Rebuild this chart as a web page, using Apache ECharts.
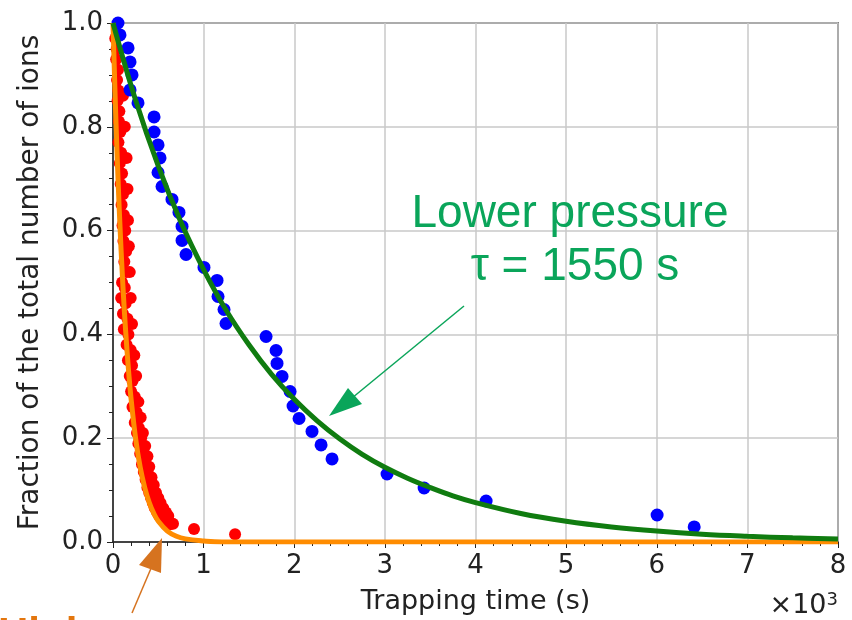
<!DOCTYPE html>
<html>
<head>
<meta charset="utf-8">
<script src="https://cdn.jsdelivr.net/npm/echarts@6/dist/echarts.min.js"></script>
<style>
html, body { margin: 0; padding: 0; background: #fff; }
#main { width: 852px; height: 620px; }
</style>
</head>
<body>
<div id="main"></div>
<script>
// lower pressure measurements (blue)
var blueTime = [55, 77, 166, 188, 210, 188, 276, 453, 453, 497, 519, 497, 541, 651, 728, 762, 762, 806,
    1004, 1148, 1159, 1225, 1247, 1689, 1799, 1810, 1865, 1954, 1987, 2053, 2196, 2296, 2417,
    3024, 3433, 4117, 6004, 6413];
var blueFrac = [1.0, 0.977, 0.952, 0.925, 0.9, 0.871, 0.846, 0.819, 0.79, 0.765, 0.74, 0.712, 0.685, 0.66, 0.635, 0.608, 0.581, 0.554,
    0.529, 0.504, 0.473, 0.448, 0.421, 0.396, 0.369, 0.344, 0.319, 0.29, 0.262, 0.238, 0.213, 0.187, 0.16,
    0.131, 0.104, 0.079, 0.052, 0.029];

// higher pressure measurements (red)
var redTime = [25, 40, 35, 55, 45, 60, 50, 70, 65, 80, 60, 90, 75, 100, 85, 110, 95, 120, 105, 135,
    115, 145, 125, 150, 100, 130, 90, 140, 110, 160, 120, 170, 150, 195, 165, 210,
    185, 215, 200, 240, 215, 260, 240, 285, 265, 310, 280, 330, 300, 350, 320, 370, 340, 390,
    360, 410, 380, 430, 400, 450, 420, 470, 440, 490, 460, 510, 485, 530, 505, 550, 525, 570,
    545, 590, 565, 610, 585, 630, 662, 894, 1347,
    110, 130, 150, 160, 165, 175, 185, 195, 210, 235, 255, 280, 305, 330, 355, 380, 400, 425, 450, 475, 500, 525, 555, 585, 610];
var redFrac = [0.97, 0.95, 0.93, 0.91, 0.89, 0.87, 0.85, 0.83, 0.81, 0.79, 0.77, 0.75, 0.73, 0.71, 0.69, 0.67, 0.65, 0.63, 0.61, 0.60,
    0.58, 0.56, 0.54, 0.52, 0.50, 0.49, 0.47, 0.46, 0.44, 0.43, 0.41, 0.40, 0.38, 0.37, 0.35, 0.34,
    0.32, 0.31, 0.29, 0.28, 0.26, 0.25, 0.23, 0.22, 0.21, 0.20, 0.19, 0.18, 0.17, 0.16, 0.15, 0.145, 0.135, 0.13,
    0.12, 0.115, 0.105, 0.10, 0.095, 0.09, 0.085, 0.08, 0.075, 0.07, 0.066, 0.062, 0.058, 0.055, 0.052, 0.05, 0.047, 0.045,
    0.043, 0.041, 0.039, 0.037, 0.036, 0.034, 0.035, 0.025, 0.015,
    0.86, 0.80, 0.74, 0.68, 0.62, 0.57, 0.52, 0.47, 0.42, 0.36, 0.32, 0.27, 0.24, 0.21, 0.185, 0.165, 0.145, 0.125, 0.11, 0.095, 0.085, 0.075, 0.065, 0.057, 0.05];

// fitted curves
var greenTime = [0, 250, 500, 750, 1000, 1250, 1500, 1750, 2000, 2250, 2500, 2750, 3000, 3250, 3500, 3750, 4000,
    4500, 5000, 5500, 6000, 6500, 7000, 7500, 8000];
var greenFrac = [1.0, 0.851, 0.724, 0.616, 0.525, 0.446, 0.380, 0.323, 0.275, 0.234, 0.199, 0.169, 0.144, 0.123, 0.105, 0.089, 0.076,
    0.055, 0.040, 0.029, 0.021, 0.015, 0.011, 0.008, 0.006];
var orangeTime = [0, 20, 40, 60, 80, 100, 125, 150, 175, 200, 250, 300, 350, 400, 450, 500, 600, 700, 800, 1000, 1200, 8000];
var orangeFrac = [1.0, 0.879, 0.773, 0.679, 0.597, 0.525, 0.446, 0.380, 0.323, 0.275, 0.199, 0.144, 0.105, 0.076, 0.055, 0.040, 0.021, 0.011, 0.006, 0.002, 0.0, 0.0];

var xTickLabels = ['0', '1', '2', '3', '4', '5', '6', '7', '8'];
var yTickLabels = ['0.0', '0.2', '0.4', '0.6', '0.8', '1.0'];

function pairs(xs, ys) {
    var out = [];
    for (var i = 0; i < xs.length; i++) out.push([xs[i], ys[i]]);
    return out;
}

var axisFont = 'DejaVu Sans';
var chart = echarts.init(document.getElementById('main'));

var option = {
    animation: false,
    backgroundColor: '#fff',
    grid: { left: 113, right: 14, top: 23, bottom: 77, show: true, borderColor: '#222', borderWidth: 1.5 },
    xAxis: {
        type: 'value', min: 0, max: 8000, interval: 1000,
        name: 'Trapping time (s)', nameLocation: 'middle', nameGap: 46,
        nameTextStyle: { fontFamily: axisFont, fontSize: 27, color: '#222' },
        axisLine: { lineStyle: { color: '#222', width: 1.5 } },
        axisTick: { length: 6, lineStyle: { color: '#222' } },
        minorTick: { show: true, splitNumber: 5, length: 4, lineStyle: { color: '#222' } },
        splitLine: { lineStyle: { color: '#c8c8c8', width: 1.5 } },
        axisLabel: { fontFamily: axisFont, fontSize: 26, color: '#222', margin: 11,
            formatter: function (v) { return xTickLabels[Math.round(v / 1000)]; } }
    },
    yAxis: {
        type: 'value', min: 0, max: 1, interval: 0.2,
        name: 'Fraction of the total number of ions', nameLocation: 'middle', nameGap: 68,
        nameTextStyle: { fontFamily: axisFont, fontSize: 28, color: '#222' },
        axisLine: { lineStyle: { color: '#222', width: 1.5 } },
        axisTick: { length: 6, lineStyle: { color: '#222' } },
        minorTick: { show: true, splitNumber: 4, length: 4, lineStyle: { color: '#222' } },
        splitLine: { lineStyle: { color: '#c8c8c8', width: 1.5 } },
        axisLabel: { fontFamily: axisFont, fontSize: 26, color: '#222', margin: 10,
            formatter: function (v) { return yTickLabels[Math.round(v * 5)]; } }
    },
    series: [
        { type: 'scatter', data: pairs(redTime, redFrac), symbolSize: 12, itemStyle: { color: '#ff0000', opacity: 1 }, z: 2 },
        { type: 'scatter', data: pairs(blueTime, blueFrac), symbolSize: 13, itemStyle: { color: '#0000ff', opacity: 1 }, z: 3 },
        { type: 'line', data: pairs(orangeTime, orangeFrac), smooth: 0.4, showSymbol: false,
            lineStyle: { color: '#ff8c00', width: 5 }, z: 4 },
        { type: 'line', data: pairs(greenTime, greenFrac), smooth: 0.4, showSymbol: false,
            lineStyle: { color: '#107c10', width: 5 }, z: 5 }
    ],
    graphic: [
        { type: 'text', x: 570, y: 214, z: 10, style: { text: 'Lower pressure', font: '46px "Liberation Sans"', fill: '#0aa55a', align: 'center', verticalAlign: 'middle' } },
        { type: 'text', x: 575, y: 267, z: 10, style: { text: 'τ = 1550 s', font: '46px "Liberation Sans"', fill: '#0aa55a', align: 'center', verticalAlign: 'middle' } },
        { type: 'line', z: 10, shape: { x1: 464, y1: 306, x2: 352, y2: 398 }, style: { stroke: '#0aa55a', lineWidth: 1.5 } },
        { type: 'polygon', z: 10, shape: { points: [[329, 416], [348, 388], [362, 404]] }, style: { fill: '#0aa55a' } },
        { type: 'line', z: 10, shape: { x1: 132, y1: 613, x2: 152, y2: 566 }, style: { stroke: '#d6731f', lineWidth: 1.5 } },
        { type: 'polygon', z: 10, shape: { points: [[162, 538], [139, 565], [161, 573]] }, style: { fill: '#d6731f' } },
        { type: 'text', x: -2, y: 635, z: 10, style: { text: 'Higher pressure', font: 'bold 42px "Liberation Sans"', fill: '#e3760e', align: 'left', verticalAlign: 'middle' } },
        { type: 'text', x: 838, y: 606, z: 10, style: { text: '{a|×10}{b|3}', align: 'right', verticalAlign: 'middle',
            rich: { a: { fontFamily: axisFont, fontSize: 27, fill: '#222' }, b: { fontFamily: axisFont, fontSize: 18, fill: '#222', verticalAlign: 'top', padding: [0, 0, 12, 0] } } } }
    ]
};
chart.setOption(option);
</script>
</body>
</html>
